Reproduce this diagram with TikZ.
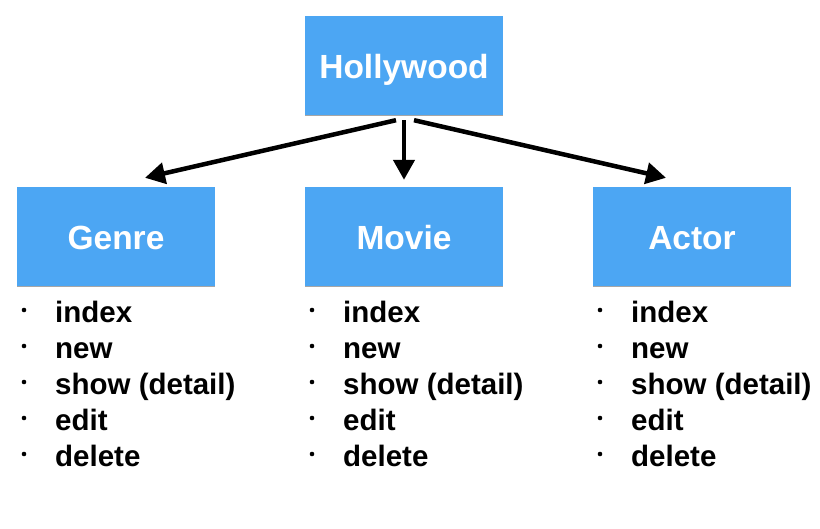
\documentclass[tikz,border=0pt]{standalone}
\usepackage{fontspec}
\setmainfont{Liberation Sans}
\usetikzlibrary{arrows.meta,shadows}
\definecolor{boxblue}{RGB}{76,166,243}
\tikzset{
  box/.style={fill=boxblue, draw=none, minimum width=198pt, minimum height=99pt, inner sep=0pt,
    text=white, font=\fontsize{33.5}{36}\selectfont\bfseries, text height=27pt, text depth=0pt,
    drop shadow={shadow xshift=0pt, shadow yshift=-1.5pt, opacity=0.35, fill=black}},
  arr/.style={line width=4.5pt, -{Triangle[length=20pt,width=21pt]}},
  item/.style={anchor=base west, inner sep=0pt, font=\fontsize{29.5}{32}\selectfont\bfseries},
  dot/.style={circle, fill=black, inner sep=0pt, minimum size=4.6pt}
}
\begin{document}
\begin{tikzpicture}[x=1pt,y=-1pt]
\useasboundingbox (0,0) rectangle (820,529);
\node[box] (hw) at (404,65.5) {Hollywood};
\node[box] (genre) at (116,236.5) {Genre};
\node[box] (movie) at (404,236.5) {Movie};
\node[box] (actor) at (692,236.5) {Actor};
\draw[arr] ([xshift=-8pt,yshift=-5pt]hw.south) -- ([xshift=29pt,yshift=9pt]genre.north);
\draw[arr] ([yshift=-5pt]hw.south) -- ([yshift=7pt]movie.north);
\draw[arr] ([xshift=10pt,yshift=-5pt]hw.south) -- ([xshift=-26pt,yshift=9pt]actor.north);
\foreach \c/\dx in {g/24, m/312, a/600}{
  \foreach \t [count=\i from 0] in {index, new, show (detail), edit, delete}{
    \node[dot] (d\c\i) at (\dx, 310+36*\i) {};
    \node[item] (t\c\i) at (\dx+31, 323+36*\i) {\t};
  }
}
\end{tikzpicture}
\end{document}
